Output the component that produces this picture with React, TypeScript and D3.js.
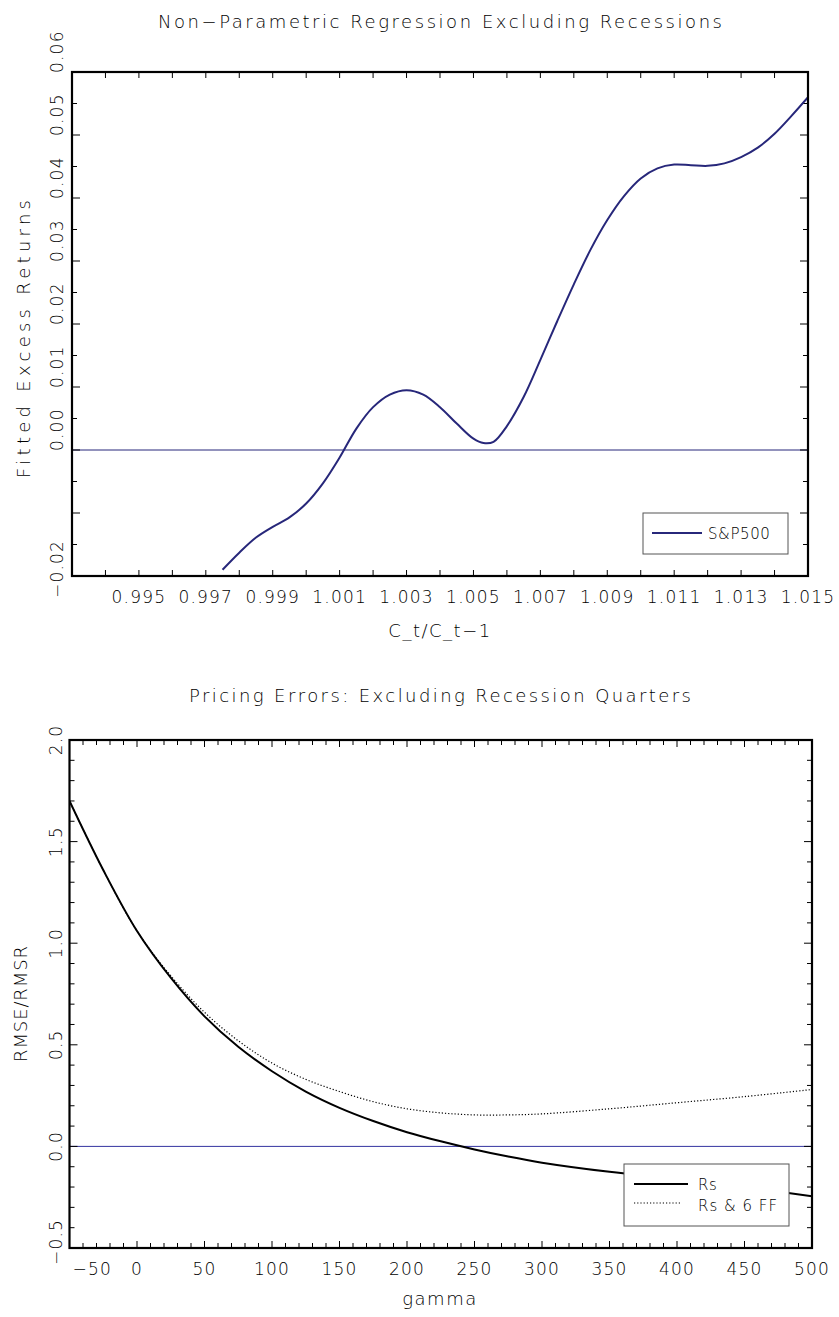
import React from "react";
import * as d3 from "d3";

const W = 839;
const H = 1317;

// ---- Upper panel: fitted excess returns vs consumption growth ----
const growth = [
  0.9975, 0.998, 0.9985, 0.999, 0.9995, 1.0, 1.0005, 1.001, 1.0015, 1.002,
  1.0025, 1.003, 1.0035, 1.004, 1.0045, 1.005, 1.0053, 1.0056, 1.006, 1.0065,
  1.007, 1.0075, 1.008, 1.0085, 1.009, 1.0095, 1.01, 1.0105, 1.011, 1.0115,
  1.012, 1.0125, 1.013, 1.0135, 1.014, 1.0145, 1.015,
];
const fittedSP500 = [
  -0.019, -0.0163, -0.0139, -0.0122, -0.0107, -0.0085, -0.0053, -0.0012, 0.0034, 0.0068,
  0.0088, 0.0095, 0.0088, 0.0068, 0.0042, 0.0018, 0.0011, 0.0013, 0.0038, 0.0084,
  0.0143, 0.0204, 0.0263, 0.0318, 0.0365, 0.0403, 0.0431, 0.0447, 0.0453, 0.0452,
  0.0451, 0.0455, 0.0465, 0.048, 0.0502, 0.053, 0.056,
];
const growthTickLabels = [0.995, 0.997, 0.999, 1.001, 1.003, 1.005, 1.007, 1.009, 1.011, 1.013, 1.015];
const returnTickLabels = [-0.02, 0.0, 0.01, 0.02, 0.03, 0.04, 0.05, 0.06];

// ---- Lower panel: pricing errors vs gamma ----
const gammaGrid = [-50, -25, 0, 25, 50, 75, 100, 125, 150, 175, 200, 225, 250, 275, 300, 350, 400, 450, 500];
const rmseRs = [1.7, 1.36, 1.06, 0.83, 0.64, 0.49, 0.37, 0.27, 0.19, 0.125, 0.07, 0.025, -0.015, -0.05, -0.08, -0.125, -0.16, -0.2, -0.245];
const rmseRsFF = [1.7, 1.36, 1.06, 0.84, 0.66, 0.52, 0.41, 0.33, 0.27, 0.22, 0.185, 0.165, 0.155, 0.155, 0.16, 0.185, 0.215, 0.245, 0.28];
const gammaTickLabels = [-50, 0, 50, 100, 150, 200, 250, 300, 350, 400, 450, 500];
const rmseTickLabels = [-0.5, 0.0, 0.5, 1.0, 1.5, 2.0];

const FONT = "'DejaVu Sans', 'Liberation Sans', sans-serif";
const NAVY = "#27277a";
const ZERO_BLUE = "#3434a0";

const fmt = (v: number, digits: number) => {
  const s = Math.abs(v).toFixed(digits);
  return v < 0 ? "\u2212" + s : s;
};

const top = { x0: 72, x1: 808, y0: 72, y1: 576 };
const bot = { x0: 69.5, x1: 812, y0: 740, y1: 1248 };

export default function App() {
  // scales
  const xT = d3.scaleLinear().domain([0.993, 1.015]).range([top.x0, top.x1]);
  const yT = d3.scaleLinear().domain([-0.02, 0.06]).range([top.y1, top.y0]);
  const xB = d3.scaleLinear().domain([-50, 500]).range([bot.x0, bot.x1]);
  const yB = d3.scaleLinear().domain([-0.5, 2.0]).range([bot.y1, bot.y0]);

  const lineTop = d3
    .line<number>()
    .x((_, i) => xT(growth[i]))
    .y((d) => yT(d))
    .curve(d3.curveCatmullRom.alpha(0.5));
  const lineBot = (vals: number[]) =>
    d3
      .line<number>()
      .x((_, i) => xB(gammaGrid[i]))
      .y((d) => yB(d))
      .curve(d3.curveCatmullRom.alpha(0.5))(vals) || "";

  // tick positions
  const topXTicks = d3.range(994, 1015).map((v) => v / 1000);
  const topYTicks = d3.range(-15, 60, 5).map((v) => v / 1000);
  const botXTicks = d3.range(-40, 500, 10);
  const botYTicks = d3.range(-4, 20, 1).map((v) => v / 10);

  const tickStroke = { stroke: "#000", strokeWidth: 1 };
  const textStyle = { fontFamily: FONT, fill: "#000", fontWeight: 300 as const };

  return (
    <svg
      width={W}
      height={H}
      viewBox={`0 0 ${W} ${H}`}
      style={{ position: "absolute", left: 0, top: 0, background: "#fff" }}
    >
      <defs>
        <clipPath id="clipTop">
          <rect x={top.x0} y={top.y0} width={top.x1 - top.x0} height={top.y1 - top.y0} />
        </clipPath>
        <clipPath id="clipBot">
          <rect x={bot.x0} y={bot.y0} width={bot.x1 - bot.x0} height={bot.y1 - bot.y0} />
        </clipPath>
      </defs>
      <rect width={W} height={H} fill="#fff" />

      {/* ===== Upper panel ===== */}
      <text x={440} y={28} textAnchor="middle" fontSize={18} textLength={564} lengthAdjust="spacing" {...textStyle}>
        Non{"\u2212"}Parametric Regression Excluding Recessions
      </text>

      {/* zero line */}
      <line x1={top.x0} x2={top.x1} y1={yT(0)} y2={yT(0)} stroke={NAVY} strokeWidth={1} />

      {/* ticks, mirrored on all four sides */}
      {topXTicks.map((v) => (
        <g key={"tx" + v}>
          <line x1={xT(v)} x2={xT(v)} y1={top.y1} y2={top.y1 - 6} {...tickStroke} />
          <line x1={xT(v)} x2={xT(v)} y1={top.y0} y2={top.y0 + 6} {...tickStroke} />
        </g>
      ))}
      {topYTicks.map((v) => {
        const major = Math.abs(Math.round(v * 1000) % 10) === 0;
        const len = major ? 8 : 5;
        return (
          <g key={"ty" + v}>
            <line x1={top.x0} x2={top.x0 + len} y1={yT(v)} y2={yT(v)} {...tickStroke} />
            <line x1={top.x1} x2={top.x1 - len} y1={yT(v)} y2={yT(v)} {...tickStroke} />
          </g>
        );
      })}

      {/* curve */}
      <g clipPath="url(#clipTop)">
        <path d={lineTop(fittedSP500) || ""} fill="none" stroke={NAVY} strokeWidth={2} />
      </g>

      {/* frame */}
      <rect x={top.x0} y={top.y0} width={top.x1 - top.x0} height={top.y1 - top.y0} fill="none" stroke="#000" strokeWidth={2.2} />

      {/* tick labels */}
      {growthTickLabels.map((v) => (
        <text key={"gl" + v} x={xT(v)} y={603} textAnchor="middle" fontSize={17} letterSpacing={1.2} {...textStyle}>
          {v.toFixed(3)}
        </text>
      ))}
      {returnTickLabels.map((v) => {
        const y = yT(v) + (v < 0 ? 22 : 1);
        return (
          <text
            key={"rl" + v}
            transform={`translate(63,${y}) rotate(-90)`}
            textAnchor="start"
            fontSize={17}
            letterSpacing={1.2}
            {...textStyle}
          >
            {fmt(v, 2)}
          </text>
        );
      })}

      {/* axis titles */}
      <text x={440} y={637} textAnchor="middle" fontSize={18} letterSpacing={1.5} {...textStyle}>
        C_t/C_t{"\u2212"}1
      </text>
      <text
        transform={`translate(30,${339}) rotate(-90)`}
        textAnchor="middle"
        fontSize={18}
        textLength={278}
        lengthAdjust="spacing"
        {...textStyle}
      >
        Fitted Excess Returns
      </text>

      {/* legend */}
      <rect x={643} y={513} width={145} height={41} fill="#fff" stroke="#555" strokeWidth={1} />
      <line x1={652} x2={702} y1={533} y2={533} stroke={NAVY} strokeWidth={2} />
      <text x={708} y={539} fontSize={15} letterSpacing={0.6} {...textStyle}>
        S&amp;P500
      </text>

      {/* ===== Lower panel ===== */}
      <text x={440} y={702} textAnchor="middle" fontSize={18} textLength={502} lengthAdjust="spacing" {...textStyle}>
        Pricing Errors: Excluding Recession Quarters
      </text>

      <line x1={bot.x0} x2={bot.x1} y1={yB(0)} y2={yB(0)} stroke={ZERO_BLUE} strokeWidth={1} />

      {botXTicks.map((v) => {
        const len = v % 50 === 0 ? 7 : 5;
        return (
          <g key={"bx" + v}>
            <line x1={xB(v)} x2={xB(v)} y1={bot.y1} y2={bot.y1 - len} {...tickStroke} />
            <line x1={xB(v)} x2={xB(v)} y1={bot.y0} y2={bot.y0 + len} {...tickStroke} />
          </g>
        );
      })}
      {botYTicks.map((v) => {
        const major = Math.round(v * 10) % 5 === 0;
        const len = major ? 8 : 5;
        return (
          <g key={"by" + v}>
            <line x1={bot.x0} x2={bot.x0 + len} y1={yB(v)} y2={yB(v)} {...tickStroke} />
            <line x1={bot.x1} x2={bot.x1 - len} y1={yB(v)} y2={yB(v)} {...tickStroke} />
          </g>
        );
      })}

      <g clipPath="url(#clipBot)">
        <path d={lineBot(rmseRsFF)} fill="none" stroke="#000" strokeWidth={1.2} strokeDasharray="1.2,2" />
        <path d={lineBot(rmseRs)} fill="none" stroke="#000" strokeWidth={2} />
      </g>

      <rect x={bot.x0} y={bot.y0} width={bot.x1 - bot.x0} height={bot.y1 - bot.y0} fill="none" stroke="#000" strokeWidth={2.2} />

      {gammaTickLabels.map((v, i) => (
        <text
          key={"gml" + v}
          x={i === 0 ? bot.x0 + 3 : xB(v)}
          y={1275}
          textAnchor={i === 0 ? "start" : "middle"}
          fontSize={17}
          letterSpacing={1.2}
          {...textStyle}
        >
          {fmt(v, 0)}
        </text>
      ))}
      {rmseTickLabels.map((v) => (
        <text
          key={"rml" + v}
          transform={`translate(62,${yB(v) + (v < 0 ? -6 : 0)}) rotate(-90)`}
          textAnchor="middle"
          fontSize={17}
          letterSpacing={1.2}
          {...textStyle}
        >
          {fmt(v, 1)}
        </text>
      ))}

      <text x={440} y={1305} textAnchor="middle" fontSize={18} letterSpacing={1.5} {...textStyle}>
        gamma
      </text>
      <text
        transform={`translate(27,${1004}) rotate(-90)`}
        textAnchor="middle"
        fontSize={18}
        textLength={116}
        lengthAdjust="spacing"
        {...textStyle}
      >
        RMSE/RMSR
      </text>

      {/* legend */}
      <rect x={624} y={1164} width={165} height={62} fill="#fff" stroke="#555" strokeWidth={1} />
      <line x1={634} x2={688} y1={1184} y2={1184} stroke="#000" strokeWidth={2} />
      <text x={698} y={1190} fontSize={15} letterSpacing={0.6} {...textStyle}>
        Rs
      </text>
      <line x1={634} x2={682} y1={1203} y2={1203} stroke="#000" strokeWidth={1.2} strokeDasharray="1.2,2" />
      <text x={698} y={1211} fontSize={15} letterSpacing={1} {...textStyle}>
        Rs &amp; 6 FF
      </text>
    </svg>
  );
}
